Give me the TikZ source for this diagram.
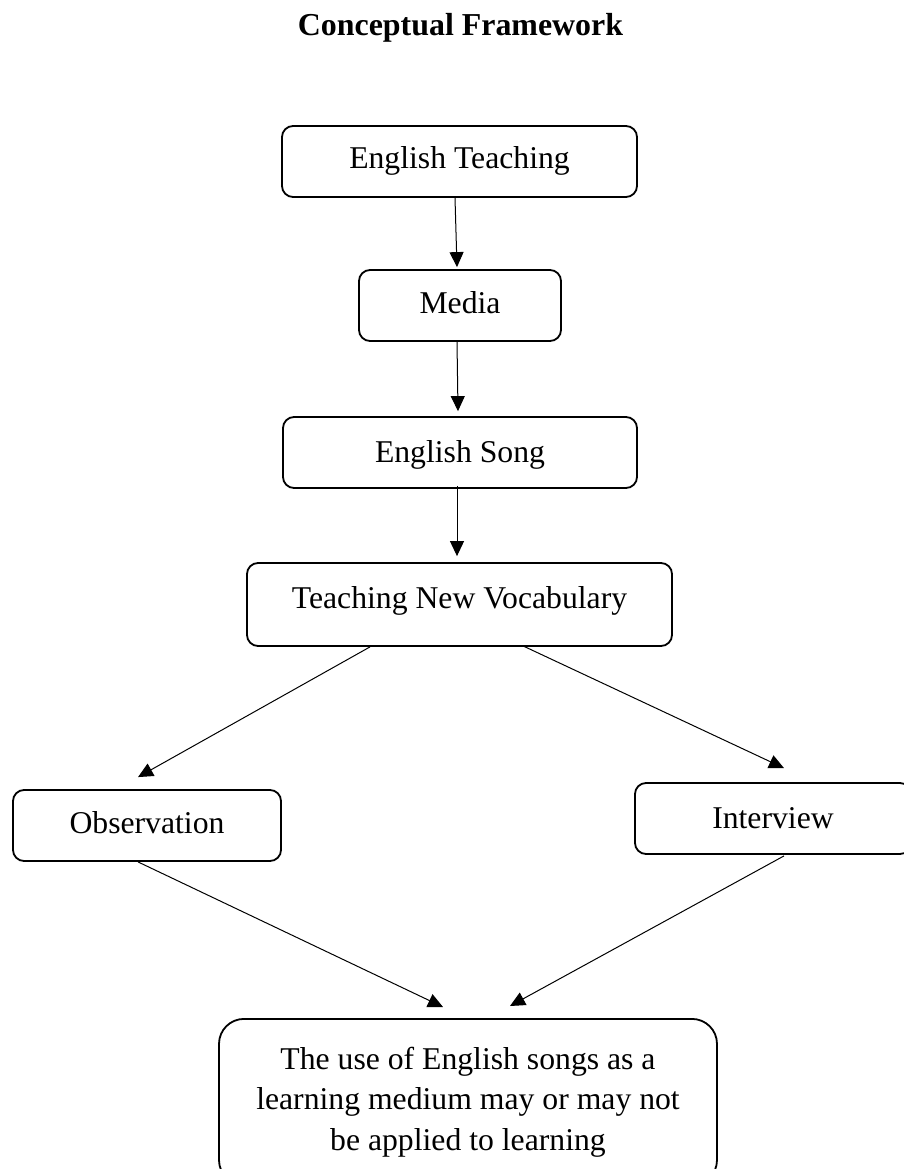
\documentclass[tikz,border=0pt]{standalone}
\usepackage{fontspec}
\setmainfont{Liberation Serif}
\usetikzlibrary{arrows.meta,calc}
\tikzset{
  boxnode/.style={draw=black, line width=1.8pt, rounded corners=11pt, inner sep=0pt,
    minimum height=71pt, text height=22pt, text depth=7pt,
    font=\fontsize{31.7}{38}\selectfont},
  arr/.style={draw=black, line width=1pt, -{Triangle[length=15pt,width=14pt]}},
}
\begin{document}
\begin{tikzpicture}[x=1pt,y=-1pt]
\useasboundingbox (0,0) rectangle (904,1169);
\clip (0,0) rectangle (904,1169);
\node[anchor=base, font=\fontsize{31.9}{38}\selectfont\bfseries] (title) at (460.5,36) {Conceptual Framework};
\node[boxnode, minimum width=355pt] (b1) at (459.5,161.5) {English Teaching};
\node[boxnode, minimum width=202pt] (b2) at (460,305.5) {Media};
\node[boxnode, minimum width=354pt, text height=24pt, text depth=5pt] (b3) at (460,452.5) {English Song};
\node[boxnode, minimum width=425pt, minimum height=83pt, text depth=15pt] (b4) at (459.5,604.5) {Teaching New Vocabulary};
\node[boxnode, minimum width=268pt] (obs) at (147,825.5) {Observation};
\node[boxnode, minimum width=276pt, text height=24pt, text depth=5pt] (int) at (773,818.5) {Interview};
\node[draw=black, line width=1.8pt, rounded corners=25pt, anchor=north, minimum width=498pt,
  inner xsep=0pt, inner ysep=28pt, align=center, font=\fontsize{31.7}{40.5}\selectfont] (fin) at (468,1018)
  {The use of English songs as a\\learning medium may or may not\\be applied to learning};
\draw[arr] ($(b1.south)+(-4.5,0)$) -- ($(b2.north)+(-3,-2)$);
\draw[arr] ($(b2.south)+(-3,0)$) -- ($(b3.north)+(-2,-5)$);
\draw[arr] ($(b3.south)+(-3,-3)$) -- ($(b4.north)+(-2.5,-6)$);
\draw[arr] ($(b4.south)+(-89.5,0)$) -- ($(obs.north)+(-9,-12)$);
\draw[arr] ($(b4.south)+(63.5,-1)$) -- ($(int.north)+(11,-14)$);
\draw[arr] ($(obs.south)+(-9,0)$) -- ($(fin.north)+(-25,-11)$);
\draw[arr] ($(int.south)+(11,1)$) -- ($(fin.north)+(42,-12)$);
\end{tikzpicture}
\end{document}
